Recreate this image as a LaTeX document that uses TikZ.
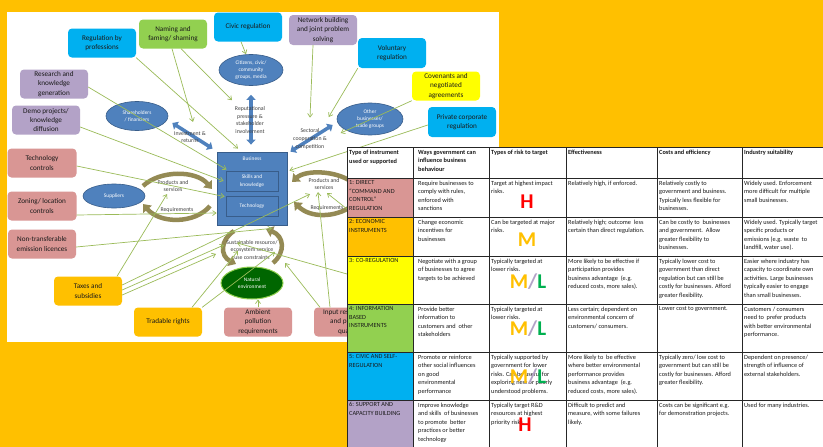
\documentclass[tikz,border=0pt]{standalone}
\usepackage{fontspec}
\setmainfont{Carlito}
\usetikzlibrary{arrows.meta,shapes.geometric,calc}
\definecolor{bgor}{HTML}{FFC000}
\definecolor{cyanc}{HTML}{00B0F0}
\definecolor{greenc}{HTML}{92D050}
\definecolor{purpc}{HTML}{B3A2C7}
\definecolor{pinkc}{HTML}{D99694}
\definecolor{yellc}{HTML}{FFFF00}
\definecolor{ellblue}{HTML}{4F81BD}
\definecolor{ellbord}{HTML}{385D8A}
\definecolor{natg}{HTML}{006600}
\definecolor{olivec}{HTML}{948A54}
\definecolor{gline}{HTML}{9BBB59}
\definecolor{txtc}{HTML}{1A1A1A}
\definecolor{lblc}{HTML}{404040}
\definecolor{riskred}{HTML}{FF0000}
\definecolor{riskgreen}{HTML}{00B050}
\definecolor{gridc}{HTML}{262626}
\tikzset{
  box/.style={rounded corners=4pt, minimum width=68pt, minimum height=29pt, align=center,
    font=\fontsize{7.2}{9.2}\selectfont, text=txtc, inner sep=1pt},
  ell/.style={ellipse, fill=ellblue, draw=ellbord, line width=0.6pt, text=white, align=center,
    font=\fontsize{5.4}{7.4}\selectfont, inner sep=0pt},
  lbl/.style={align=center, font=\fontsize{5.8}{7.7}\selectfont, text=lblc, inner sep=0pt},
  garr/.style={draw=gline, line width=0.7pt, -{Straight Barb[length=3.5pt,width=5pt]}},
  cyc/.style={draw=olivec, line width=4.5pt, -{Triangle[length=7pt,width=11pt]}},
  barr/.style={draw=ellblue, line width=3.5pt, {Triangle[length=5pt,width=9pt]}-{Triangle[length=5pt,width=9pt]}},
  tcell/.style={anchor=north west, align=left, inner sep=0pt, font=\fontsize{6.3}{8.6}\selectfont, text=txtc},
  thead/.style={tcell, font=\fontsize{6.3}{8.6}\selectfont\bfseries},
  risk/.style={inner sep=0pt, font=\fontsize{21}{21}\selectfont\bfseries}
}
\begin{document}
\begin{tikzpicture}[x=1pt,y=-1pt]
\useasboundingbox (0,0) rectangle (823,447);
\fill[bgor] (0,0) rectangle (823,447);
\fill[white] (7,12) rectangle (499,342);

% ---------- boxes ----------
\node[box, fill=cyanc] (regprof) at (102,43) {Regulation by\\professions};
\node[box, fill=greenc] (naming) at (173,34) {Naming and\\faming/ shaming};
\node[box, fill=cyanc] (civic) at (248,27) {Civic regulation};
\node[box, fill=purpc, minimum height=30pt] (network) at (323,30) {Network building\\and joint problem\\solving};
\node[box, fill=cyanc, minimum height=30pt] (volun) at (392,53) {Voluntary\\regulation};
\node[box, fill=yellc] (coven) at (446,86) {Covenants and\\negotiated\\agreements};
\node[box, fill=cyanc, minimum height=30pt] (privcorp) at (462,122) {Private corporate\\regulation};
\node[box, fill=purpc] (research) at (54,84) {Research and\\knowledge\\generation};
\node[box, fill=purpc] (demo) at (46,120) {Demo projects/\\knowledge\\diffusion};
\node[box, fill=pinkc, minimum width=69pt] (techctl) at (42,163) {Technology\\controls};
\node[box, fill=pinkc, minimum width=69pt] (zoning) at (42,206) {Zoning/ location\\controls};
\node[box, fill=pinkc] (nontrans) at (42,244) {Non-transferable\\emission licences};
\node[box, fill=bgor] (taxes) at (88,291) {Taxes and\\subsidies};
\node[box, fill=bgor] (tradable) at (168,322) {Tradable rights};
\node[box, fill=pinkc] (ambient) at (258,322) {Ambient\\pollution\\requirements};
\begin{scope}
\clip (0,0) rectangle (347,447);
\node[box, fill=pinkc] (input) at (348,322) {Input restrictions\\and product\\quality};
\end{scope}

% ---------- ellipses ----------
\node[ell, minimum width=62pt, minimum height=29pt] (share) at (137,116) {Shareholders\\/ financiers};
\node[ell, minimum width=64pt, minimum height=31pt] (citizens) at (251,70) {Citizens, civic/\\community\\groups, media};
\node[ell, minimum width=66pt, minimum height=32pt] (otherbus) at (370,119) {Other\\businesses/\\trade groups};
\node[ell, minimum width=62pt, minimum height=24pt] (suppliers) at (114,196) {Suppliers};
\node[ell, fill=natg, draw=greenc, line width=1pt, minimum width=62pt, minimum height=32pt] (natenv) at (252,283) {Natural\\environment};

% ---------- business ----------
\node[draw=ellbord, fill=ellblue, line width=0.8pt, minimum width=70pt, minimum height=73pt, inner sep=0pt] (business) at (252,188.5) {};
\node[text=white, font=\fontsize{5.4}{6}\selectfont, inner sep=0pt] (bustitle) at (252,159) {Business};
\node[draw=ellbord, fill=ellblue, line width=0.8pt, minimum width=52pt, minimum height=20pt, inner sep=0pt, align=center, text=white, font=\fontsize{5.4}{7.4}\selectfont] (skills) at (252,181) {Skills and\\knowledge};
\node[draw=ellbord, fill=ellblue, line width=0.8pt, minimum width=52pt, minimum height=20pt, inner sep=0pt, text=white, font=\fontsize{5.4}{7.4}\selectfont] (tech) at (252,206) {Technology};

% ---------- blue double arrows ----------
\draw[barr] ([shift={(4,7)}]share.east) -- ([shift={(-4,-3)}]business.north west);
\draw[barr] ([shift={(0,9)}]citizens.south) -- ([shift={(-1,-7)}]business.north);
\draw[barr] ([shift={(3,0)}]business.north east) -- ([shift={(-4,6)}]otherbus.west);

% ---------- olive cycles ----------
\draw[cyc] (143,186) .. controls (160,170) and (196,170) .. (212,189);
\draw[cyc] (210,206) .. controls (195,224) and (160,224) .. (143,204);
\draw[cyc] (352,182) .. controls (335,170) and (305,170) .. (292,182);
\draw[cyc] (352,206) .. controls (335,218) and (310,218) .. (294,202);
\draw[cyc] (234,231) .. controls (220,240) and (220,256) .. (236,264);
\draw[cyc] (273,263) .. controls (286,252) and (284,236) .. (266,229);

% ---------- labels ----------
\node[lbl] (invest) at (190,137) {Investment \&\\returns};
\node[lbl] (reput) at (250,120) {Reputational\\pressure \&\\stakeholder\\involvement};
\node[lbl] (sector) at (310,139) {Sectoral\\cooperation \&\\competition};
\node[lbl] (prodL) at (173,186) {Products and\\services};
\node[lbl] (reqL) at (177,210) {Requirements};
\node[lbl] (prodR) at (324,184) {Products and\\services};
\node[lbl] (reqR) at (327,208) {Requirements};
\node[lbl] (sustain) at (252,250) {Sustainable resource/\\ecosystem service\\use constraints};

% ---------- green arrows ----------
\coordinate (offa) at (347,274);
\coordinate (offb) at (347,209);
\draw[garr] (regprof.south east) -- ([shift={(-14,-22)}]skills.north);
\draw[garr] ([shift={(-1,0)}]naming.south) -- ([shift={(3,-9)}]invest.north);
\draw[garr] ([shift={(8,0)}]naming.south) -- ([shift={(-18,-6)}]reput.north);
\draw[garr] ([shift={(-7,0)}]civic.south) -- ([shift={(-5,0)}]citizens.north);
\draw[garr] ([shift={(-10,0)}]network.south) -- ([shift={(0,-11)}]sector.north);
\draw[garr] (volun.south west) -- ([shift={(-8,-2)}]otherbus.west);
\draw[garr] (coven.south west) -- ([shift={(4,14)}]otherbus.west);
\draw[garr] ([shift={(0,3)}]privcorp.west) -- ([shift={(2,-18)}]business.east);
\draw[garr] ([shift={(0,3)}]research.east) -- ([shift={(1,-1)}]skills.north west);
\draw[garr] ([shift={(0,7)}]demo.east) -- ([shift={(-2,0)}]skills.west);
\draw[garr] ([shift={(0,3)}]techctl.east) -- ([shift={(-1,1)}]tech.north west);
\draw[garr] ([shift={(0,9)}]zoning.east) -- ([shift={(0,24.5)}]business.west);
\draw[garr] ([shift={(0,3)}]nontrans.east) -- ([shift={(20,3)}]business.south);
\draw[garr] ([shift={(29,0)}]taxes.north) -- ([shift={(-6,2)}]prodL.south);
\draw[garr] ([shift={(0,-6)}]taxes.east) -- ([shift={(-14,4)}]prodR.south);
\draw[garr] ([shift={(0,-1)}]taxes.east) -- ([shift={(-28,-15)}]sustain.south);
\draw[garr] ([shift={(0,4)}]taxes.east) -- ([shift={(-36,-6)}]sustain.south);
\draw[garr] ([shift={(24,0)}]tradable.north) -- ([shift={(-14,-9)}]sustain.south);
\draw[garr] (tradable.north east) -- ([shift={(23,-8)}]sustain.south);
\draw[garr] (ambient.north) -- (ambient.north |- natenv.south);
\draw[garr] ([shift={(-28,0)}]input.north) -- ([shift={(33,3)}]sustain.south);
\draw[garr] ([shift={(-18,0)}]input.north) -- ([shift={(-6,2)}]prodR.south);
\draw[garr] (offa) -- ([shift={(-15,-17)}]sustain.south);
\draw[garr] (offb) -- ([shift={(3,3)}]prodR.south);

% ---------- table ----------
\fill[white] (347,147) rectangle (823,447);
\fill[pinkc] (347,178) rectangle (413,217);
\fill[bgor] (347,217) rectangle (413,256);
\fill[yellc] (347,256) rectangle (413,304);
\fill[greenc] (347,304) rectangle (413,352);
\fill[cyanc] (347,352) rectangle (413,400);
\fill[purpc] (347,400) rectangle (413,447);
\draw[gridc, line width=0.8pt] (347,147) -- (830,147);
\foreach \yy in {178,217,256,304,352,400} \draw[gridc, line width=0.8pt] (347,\yy) -- (830,\yy);
\foreach \xx in {347,413,489,566,657,742} \draw[gridc, line width=0.8pt] (\xx,147) -- (\xx,450);

% header
\node[thead] (h1) at (349,150) {Type of instrument\\used or supported};
\node[thead] (h2) at (418,150) {Ways government can\\influence business\\behaviour};
\node[thead] (h3) at (491,150) {Types of risk to target};
\node[thead] (h4) at (568,150) {Effectiveness};
\node[thead] (h5) at (659,150) {Costs and efficiency};
\node[thead] (h6) at (744,150) {Industry suitability};
% row 1
\node[tcell] (a1) at (349,180.5) {1: DIRECT\\``COMMAND AND\\CONTROL''\\REGULATION};
\node[tcell] (b1) at (418,180.5) {Require businesses to\\comply with rules,\\enforced with\\sanctions};
\node[tcell] (c1) at (491,180.5) {Target at highest impact\\risks.};
\node[tcell] (d1) at (568,180.5) {Relatively high, if enforced.};
\node[tcell] (e1) at (659,180.5) {Relatively costly to\\government and business.\\Typically less flexible for\\businesses.};
\node[tcell] (f1) at (744,180.5) {Widely used. Enforcement\\more difficult for multiple\\small businesses.};
% row 2
\node[tcell] (a2) at (349,219.5) {2: ECONOMIC\\INSTRUMENTS};
\node[tcell] (b2) at (418,219.5) {Change economic\\incentives for\\businesses};
\node[tcell] (c2) at (491,219.5) {Can be targeted at major\\risks.};
\node[tcell] (d2) at (568,219.5) {Relatively high; outcome\ \ less\\certain than direct regulation.};
\node[tcell] (e2) at (659,219.5) {Can be costly to\ \ businesses\\and government.\ \ Allow\\greater flexibility to\\businesses.};
\node[tcell] (f2) at (744,219.5) {Widely used. Typically target\\specific products or\\emissions (e.g. waste\ \ to\\landfill, water use).};
% row 3
\node[tcell] (a3) at (349,258.5) {3: CO-REGULATION};
\node[tcell] (b3) at (418,258.5) {Negotiate with a group\\of businesses to agree\\targets to be achieved};
\node[tcell] (c3) at (491,258.5) {Typically targeted at\\lower risks.};
\node[tcell] (d3) at (568,258.5) {More likely to be effective if\\participation provides\\business advantage\ \ (e.g.\\reduced costs, more sales).};
\node[tcell] (e3) at (659,258.5) {Typically lower cost to\\government than direct\\regulation but can still be\\costly for businesses. Afford\\greater flexibility.};
\node[tcell] (f3) at (744,258.5) {Easier where industry has\\capacity to coordinate own\\activities. Large businesses\\typically easier to engage\\than small businesses.};
% row 4
\node[tcell] (a4) at (349,306.5) {4: INFORMATION\\BASED\\INSTRUMENTS};
\node[tcell] (b4) at (418,306.5) {Provide better\\information to\\customers and\ \ other\\stakeholders};
\node[tcell] (c4) at (491,306.5) {Typically targeted at\\lower risks.};
\node[tcell] (d4) at (568,306.5) {Less certain; dependent on\\environmental concern of\\customers/ consumers.};
\node[tcell] (e4) at (659,306.5) {Lower cost to government.};
\node[tcell] (f4) at (744,306.5) {Customers / consumers\\need to\ \ prefer products\\with better environmental\\performance.};
% row 5
\node[tcell] (a5) at (349,354.5) {5: CIVIC AND SELF-\\REGULATION};
\node[tcell] (b5) at (418,354.5) {Promote or reinforce\\other social influences\\on good\\environmental\\performance};
\node[tcell] (c5) at (491,354.5) {Typically supported by\\government for lower\\risks. Can be useful for\\exploring new or poorly\\understood problems.};
\node[tcell] (d5) at (568,354.5) {More likely to\ \ be effective\\where better environmental\\performance provides\\business advantage\ \ (e.g.\\reduced costs, more sales).};
\node[tcell] (e5) at (659,354.5) {Typically zero/ low cost to\\government but can still be\\costly for businesses. Afford\\greater flexibility.};
\node[tcell] (f5) at (744,354.5) {Dependent on presence/\\strength of influence of\\external stakeholders.};
% row 6
\node[tcell] (a6) at (349,402.5) {6: SUPPORT AND\\CAPACITY BUILDING};
\node[tcell] (b6) at (418,402.5) {Improve knowledge\\and skills\ \ of businesses\\to promote\ \ better\\practices or better\\technology};
\node[tcell] (c6) at (491,402.5) {Typically target R\&D\\resources at highest\\priority risks.};
\node[tcell] (d6) at (568,402.5) {Difficult to predict and\\measure, with some failures\\likely.};
\node[tcell] (e6) at (659,402.5) {Costs can be significant e.g.\\for demonstration projects.};
\node[tcell] (f6) at (744,402.5) {Used for many industries.};

% risk letters
\node[risk, text=riskred] (r1) at (527,202) {H};
\node[risk, text=bgor] (r2) at (527,240) {M};
\node[risk] (r3) at (528,282) {\textcolor{bgor}{M}\textcolor{purpc}{/}\textcolor{riskgreen}{L}};
\node[risk] (r4) at (528,329) {\textcolor{bgor}{M}\textcolor{purpc}{/}\textcolor{riskgreen}{L}};
\node[risk] (r5) at (528,377) {\textcolor{bgor}{M}\textcolor{purpc}{/}\textcolor{riskgreen}{L}};
\node[risk, text=riskred] (r6) at (525,425) {H};
\end{tikzpicture}
\end{document}
